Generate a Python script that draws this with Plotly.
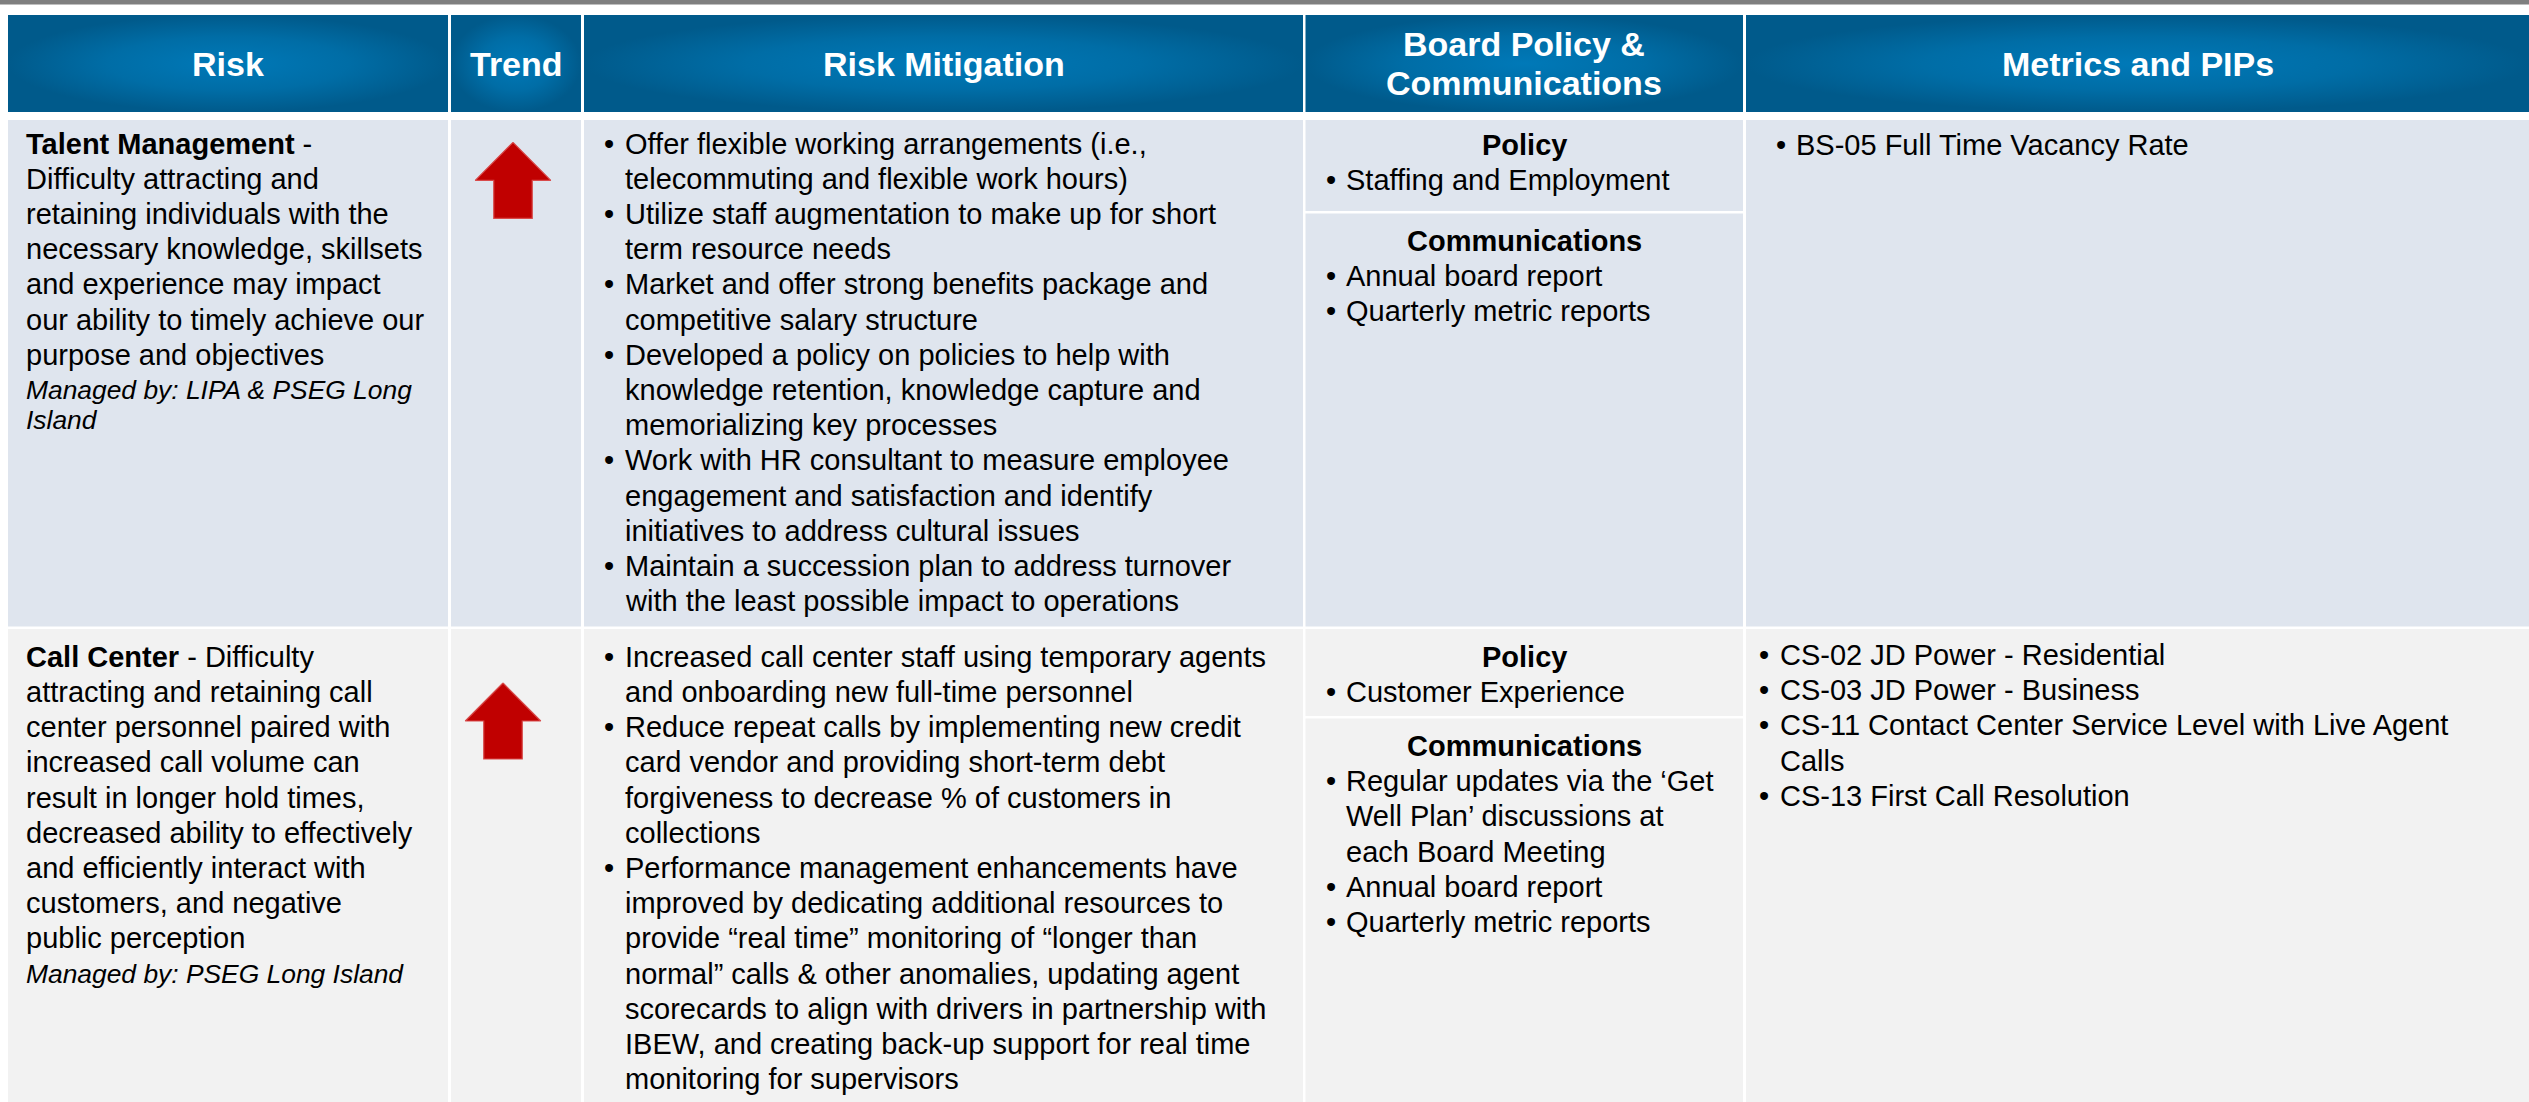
import plotly.graph_objects as go

W, H = 2529, 1102
FONT = "Arial, 'Liberation Sans', Helvetica, sans-serif"

# ---------------- data (table content) ----------------
header_labels = [["Risk"], ["Trend"], ["Risk Mitigation"],
                 ["Board Policy &", "Communications"], ["Metrics and PIPs"]]
trend = ["up", "up"]

risk_lines = [
    ["<b>Talent Management</b> -", "Difficulty attracting and",
     "retaining individuals with the", "necessary knowledge, skillsets",
     "and experience may impact", "our ability to timely achieve our",
     "purpose and objectives"],
    ["<b>Call Center</b> - Difficulty", "attracting and retaining call",
     "center personnel paired with", "increased call volume can",
     "result in longer hold times,", "decreased ability to effectively",
     "and efficiently interact with", "customers, and negative",
     "public perception"],
]
managed_by = [["Managed by: LIPA & PSEG Long", "Island"],
              ["Managed by: PSEG Long Island"]]

mitigation = [
    [["Offer flexible working arrangements (i.e.,", "telecommuting and flexible work hours)"],
     ["Utilize staff augmentation to make up for short", "term resource needs"],
     ["Market and offer strong benefits package and", "competitive salary structure"],
     ["Developed a policy on policies to help with", "knowledge retention, knowledge capture and",
      "memorializing key processes"],
     ["Work with HR consultant to measure employee", "engagement and satisfaction and identify",
      "initiatives to address cultural issues"],
     ["Maintain a succession plan to address turnover", "with the least possible impact to operations"]],
    [["Increased call center staff using temporary agents", "and onboarding new full-time personnel"],
     ["Reduce repeat calls by implementing new credit", "card vendor and providing short-term debt",
      "forgiveness to decrease % of customers in", "collections"],
     ["Performance management enhancements have", "improved by dedicating additional resources to",
      "provide “real time” monitoring of “longer than", "normal” calls & other anomalies, updating agent",
      "scorecards to align with drivers in partnership with", "IBEW, and creating back-up support for real time",
      "monitoring for supervisors"]],
]
policy_title = "Policy"
comm_title = "Communications"
policy = [[["Staffing and Employment"]], [["Customer Experience"]]]
communications = [
    [["Annual board report"], ["Quarterly metric reports"]],
    [["Regular updates via the ‘Get", "Well Plan’ discussions at", "each Board Meeting"],
     ["Annual board report"], ["Quarterly metric reports"]],
]
metrics = [
    [["BS-05 Full Time Vacancy Rate"]],
    [["CS-02 JD Power - Residential"], ["CS-03 JD Power - Business"],
     ["CS-11 Contact Center Service Level with Live Agent", "Calls"],
     ["CS-13 First Call Resolution"]],
]

# ---------------- layout / style ----------------
col_left = [8, 451, 584, 1305.5, 1746]
col_right = [448, 581, 1303, 1743, 2529]
header_top, header_bot = 15, 112
row_top = [120, 629]
row_bot = [626.5, 1102]
policy_bot = [211, 716]
sub_gap = 2.5
row_bg = ["#DFE5EE", "#F2F2F2"]
hdr_center, hdr_edge = "#0079B8", "#005A8B"
LINE = 35.2
BODY = 29
ITAL = 26.4
HDR = 34

risk_x = 26
first_y = [143.5, 656.7]
mit_bullet_x, mit_text_x = 604, 625
board_bullet_x, board_text_x = 1326, 1346
board_first_y = [145, 656.7]
comm_first_y = [241, 746]
met_bullet_x = [1776, 1759]
met_text_x = [1796, 1780]
met_first_y = [145, 655]
arrow_cx = [513, 503]
arrow_tip = [142.3, 683]
head_w, head_h, shaft_w, shaft_h = 75.5, 38, 38.5, 38

fig = go.Figure()
shapes = []
annotations = []


def rect(x0, y0, x1, y1, color):
    shapes.append(dict(type="rect", xref="x", yref="y", x0=x0, y0=y0, x1=x1, y1=y1,
                       fillcolor=color, line=dict(width=0), layer="below"))


def text(x, y, s, size=BODY, xanchor="left", color="black", bold=False, italic=False):
    if bold:
        s = "<b>" + s + "</b>"
    if italic:
        s = "<i>" + s + "</i>"
    annotations.append(dict(x=x, y=y, xref="x", yref="y", text=s, showarrow=False,
                            xanchor=xanchor, yanchor="middle", align="left",
                            font=dict(family=FONT, size=size, color=color),
                            borderpad=0, borderwidth=0))


def bullets(items, bx, tx, y0, size=BODY):
    y = y0
    for item in items:
        text(bx, y, "•", size)
        for ln in item:
            text(tx, y, ln, size)
            y += LINE
    return y


# top grey stripe
rect(0, 0, W, 4.5, "#7F7F7F")

# header cells with radial gradient
for i, lab in enumerate(header_labels):
    x0, x1 = col_left[i], col_right[i]
    fig.add_trace(go.Scatter(
        x=[x0, x1, x1, x0, x0], y=[header_top, header_top, header_bot, header_bot, header_top],
        mode="lines", fill="toself", line=dict(width=0, color=hdr_edge),
        fillgradient=dict(type="radial", colorscale=[[0, hdr_center], [0.55, "#006DA6"], [1, hdr_edge]]),
        hoverinfo="skip", showlegend=False))
    cx = (x0 + x1) / 2
    cy = (header_top + header_bot) / 2
    n = len(lab)
    for k, s in enumerate(lab):
        y = cy + (k - (n - 1) / 2) * 39
        text(cx, y, s, HDR, xanchor="center", color="white", bold=True)

# body rows
for r in range(2):
    for i in range(5):
        if i == 3:
            rect(col_left[i], row_top[r], col_right[i], policy_bot[r], row_bg[r])
            rect(col_left[i], policy_bot[r] + sub_gap, col_right[i], row_bot[r], row_bg[r])
        else:
            rect(col_left[i], row_top[r], col_right[i], row_bot[r], row_bg[r])

    # risk text
    y = first_y[r]
    for ln in risk_lines[r]:
        text(risk_x, y, ln)
        y += LINE
    for k, ln in enumerate(managed_by[r]):
        text(risk_x, y + k * 30, ln, ITAL, italic=True)

    # trend arrow
    if trend[r] == "up":
        cx, ty = arrow_cx[r], arrow_tip[r]
        xs = [cx, cx + head_w / 2, cx + shaft_w / 2, cx + shaft_w / 2, cx - shaft_w / 2,
              cx - shaft_w / 2, cx - head_w / 2, cx]
        ys = [ty, ty + head_h, ty + head_h, ty + head_h + shaft_h, ty + head_h + shaft_h,
              ty + head_h, ty + head_h, ty]
        fig.add_trace(go.Scatter(x=xs, y=ys, mode="lines", fill="toself",
                                 fillcolor="#C00000", line=dict(width=1.2, color="#D84A4A"),
                                 hoverinfo="skip", showlegend=False))

    # mitigation
    bullets(mitigation[r], mit_bullet_x, mit_text_x, first_y[r])

    # board policy & communications
    bcx = (col_left[3] + col_right[3]) / 2
    text(bcx, board_first_y[r], policy_title, BODY, xanchor="center", bold=True)
    bullets(policy[r], board_bullet_x, board_text_x, board_first_y[r] + LINE)
    text(bcx, comm_first_y[r], comm_title, BODY, xanchor="center", bold=True)
    bullets(communications[r], board_bullet_x, board_text_x, comm_first_y[r] + LINE)

    # metrics
    bullets(metrics[r], met_bullet_x[r], met_text_x[r], met_first_y[r])

fig.update_layout(
    width=W, height=H, margin=dict(l=0, r=0, t=0, b=0),
    paper_bgcolor="white", plot_bgcolor="white",
    xaxis=dict(range=[0, W], visible=False, fixedrange=True),
    yaxis=dict(range=[H, 0], visible=False, fixedrange=True),
    shapes=shapes, annotations=annotations, showlegend=False,
)

fig.write_html("out.html", include_plotlyjs=True, config={"displayModeBar": False},
               post_script="document.body.style.margin='0';document.body.style.overflow='hidden';")
